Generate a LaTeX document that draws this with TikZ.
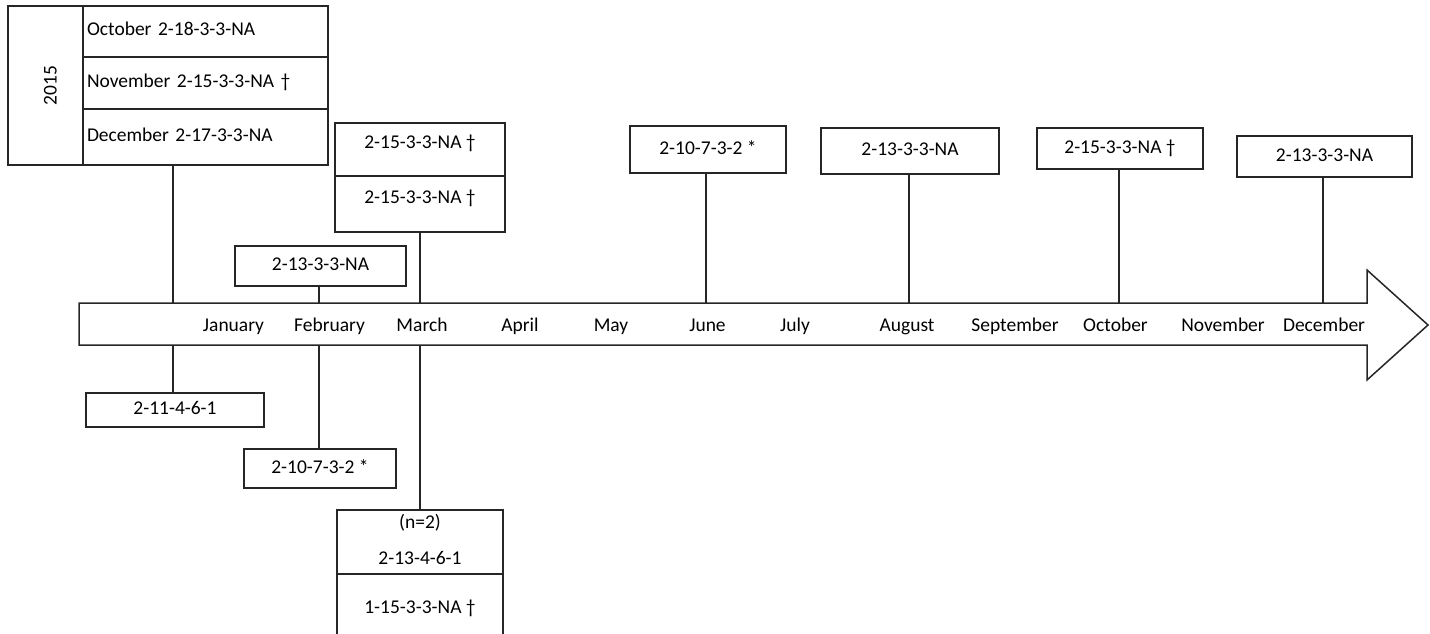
\documentclass[tikz,border=0pt]{standalone}
\usepackage{fontspec}
\setmainfont{Carlito}
\usetikzlibrary{positioning}

\tikzset{
  frame/.style={draw=black!85, line width=1.5pt, inner sep=0pt, outer sep=0pt},
  evbox/.style={frame, text height=13pt, text depth=4pt},
  upcell/.style={evbox, text depth=15pt},
  rowbox/.style={evbox, minimum width=245pt, text width=237pt, align=left},
  stem/.style={draw=black!85, line width=1.5pt},
  month/.style={text height=13pt, text depth=4pt, inner sep=0pt},
}

\begin{document}
\begin{tikzpicture}[x=1pt, y=-1pt, font=\fontsize{19.5}{23}\selectfont]
            \useasboundingbox (0,0) rectangle (1430,634);
            \clip (0,0) rectangle (1430,634);

            % timeline arrow
            \draw[stem, line join=miter] (79,303) coordinate (axtop) -- (1367,303) -- (1367,270) -- (1428,325) coordinate (tip) -- (1367,380) -- (1367,345) -- (79,345) coordinate (axbot) -- cycle;
            \node[month] (jan) at (233.5,327) {January}; \node[month] (feb) at (329.5,327) {February}; \node[month] (mar) at (422,327) {March};
            \node[month] (apr) at (520,327) {April}; \node[month] (may) at (611,327) {May}; \node[month] (jun) at (707.5,327) {June};
            \node[month] (jul) at (795,327) {July}; \node[month] (aug) at (907,327) {August}; \node[month] (sep) at (1015,327) {September};
            \node[month] (oct) at (1115.5,327) {October}; \node[month] (nov) at (1223,327) {November}; \node[month] (dec) at (1324,327) {December};
            \coordinate (tjan) at (173,303); \coordinate (tfeb) at (319,303); \coordinate (tmar) at (420,303); \coordinate (tjun) at (706,303);
            \coordinate (taug) at (909,303); \coordinate (toct) at (1119,303); \coordinate (tdec) at (1323,303);

            % 2015 block
            \node[frame, rotate=90, minimum width=159pt, minimum height=75pt, text height=22pt, text depth=0pt] (yr) at (45.5,85.5) {2015};
            \node[rowbox, minimum height=51pt] (oct15) at (205.5,31.5) {October 2-18-3-3-NA};
            \node[rowbox, minimum height=52pt, below=0pt of oct15] (nov15) {November 2-15-3-3-NA †};
            \node[rowbox, minimum height=56pt, below=0pt of nov15] (dec15) {December 2-17-3-3-NA};

            % boxes above the arrow
            \node[evbox, minimum width=171pt, minimum height=40pt] (feba) at (320.5,266) {2-13-3-3-NA};
            \node[upcell, minimum width=170pt, minimum height=53pt] (mara) at (420,149.5) {2-15-3-3-NA †};
            \node[upcell, minimum width=170pt, minimum height=56pt, below=0pt of mara] (marb) {2-15-3-3-NA †};
            \node[evbox, minimum width=156pt, minimum height=47pt] (juna) at (708,149.5) {2-10-7-3-2 *};
            \node[evbox, minimum width=178pt, minimum height=46pt] (auga) at (910,151) {2-13-3-3-NA};
            \node[evbox, minimum width=166pt, minimum height=41pt] (octa) at (1120,148.5) {2-15-3-3-NA †};
            \node[evbox, minimum width=175pt, minimum height=41pt] (deca) at (1324.5,156.5) {2-13-3-3-NA};

            % boxes below the arrow
            \node[evbox, minimum width=178pt, minimum height=34pt] (janb) at (175,410) {2-11-4-6-1};
            \node[evbox, minimum width=152pt, minimum height=39pt] (febb) at (320,468.5) {2-10-7-3-2 *};
            \node[frame, minimum width=166pt, minimum height=64pt, align=center, font=\fontsize{19.5}{36}\selectfont, text depth=5pt] (marc) at (420,542) {(n=2)\\2-13-4-6-1};
            \node[upcell, minimum width=166pt, minimum height=76pt, text depth=10pt, below=0pt of marc] (mard) {1-15-3-3-NA †};

            % stems
            \draw[stem] (tjan) -- (tjan |- dec15.south); \draw[stem] (tjan |- axbot) -- (tjan |- janb.north);
            \draw[stem] (tfeb) -- (tfeb |- feba.south); \draw[stem] (tfeb |- axbot) -- (tfeb |- febb.north);
            \draw[stem] (tmar) -- (tmar |- marb.south); \draw[stem] (tmar |- axbot) -- (tmar |- marc.north);
            \draw[stem] (tjun) -- (tjun |- juna.south); \draw[stem] (taug) -- (taug |- auga.south);
            \draw[stem] (toct) -- (toct |- octa.south); \draw[stem] (tdec) -- (tdec |- deca.south);
\end{tikzpicture}
\end{document}
